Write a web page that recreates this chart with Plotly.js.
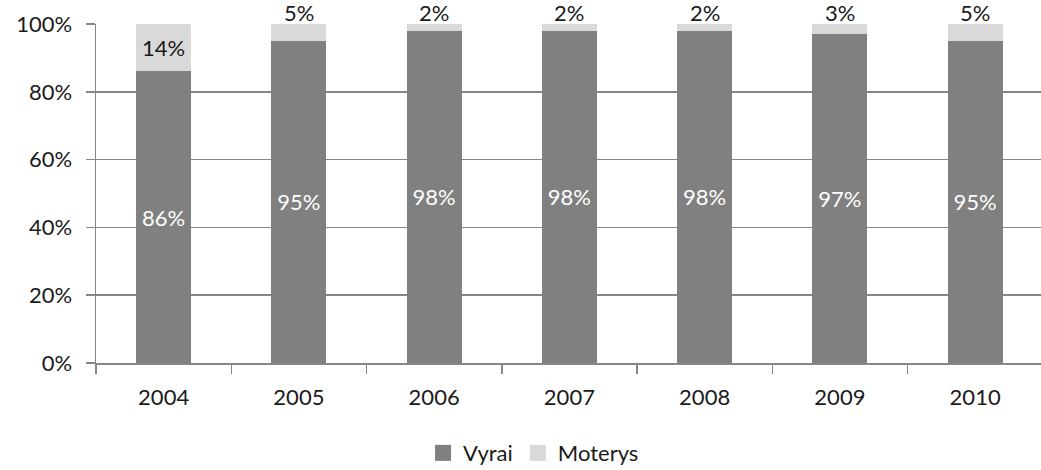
<!DOCTYPE html>
<html>
<head>
<meta charset="utf-8">
<script src="https://cdn.plot.ly/plotly-3.0.1.min.js"></script>
<style>html,body{margin:0;padding:0;background:#fff;}#chart{width:1041px;height:470px;}</style>
</head>
<body>
<div id="chart"></div>
<script>
const years = ['2004', '2005', '2006', '2007', '2008', '2009', '2010'];
const vyrai = [86, 95, 98, 98, 98, 97, 95];
const moterys = [14, 5, 2, 2, 2, 3, 5];
const seriesNames = ['Vyrai', 'Moterys'];
const seriesColors = ['#808080', '#d9d9d9'];

const FONT = 'Lato, "Open Sans", sans-serif';
const FS = 22;
const TXT = '#1a1a1a';

const fitsInside = v => v >= 10;

const traces = [
  {
    type: 'bar', name: seriesNames[0], x: years, y: vyrai, showlegend: false,
    marker: {color: seriesColors[0]},
    text: vyrai.map(v => v + '%'), textposition: 'inside', insidetextanchor: 'middle',
    textfont: {family: FONT, size: FS, color: '#ffffff'},
    constraintext: 'none', hoverinfo: 'skip'
  },
  {
    type: 'bar', name: seriesNames[1], x: years, y: moterys, showlegend: false,
    marker: {color: seriesColors[1]},
    text: moterys.map(v => fitsInside(v) ? v + '%' : ''),
    textposition: 'inside', insidetextanchor: 'middle',
    textfont: {family: FONT, size: FS, color: TXT},
    constraintext: 'none', hoverinfo: 'skip'
  },
  // legend entries
  ...seriesNames.map((n, i) => ({
    type: 'scatter', mode: 'markers', name: n, x: [null], y: [null],
    marker: {symbol: 'square', size: 16, color: seriesColors[i]},
    showlegend: true, hoverinfo: 'skip'
  }))
];

const annotations = years.map((yr, i) => fitsInside(moterys[i]) ? null : ({
  x: i, y: vyrai[i] + moterys[i], xref: 'x', yref: 'y',
  text: moterys[i] + '%', showarrow: false, yanchor: 'bottom', yshift: -4,
  font: {family: FONT, size: FS, color: TXT}
})).filter(a => a);

const layout = {
  width: 1041, height: 470,
  margin: {l: 96, r: 0, t: 24, b: 107},
  paper_bgcolor: '#ffffff', plot_bgcolor: '#ffffff',
  barmode: 'stack', bargap: 0.594,
  font: {family: FONT, size: FS, color: TXT},
  showlegend: true,
  legend: {orientation: 'h', x: 0.463, xanchor: 'center', yref: 'container', y: 0.036, yanchor: 'middle',
           font: {family: FONT, size: FS, color: TXT}, itemwidth: 30, traceorder: 'normal'},
  annotations: annotations,
  xaxis: {
    type: 'category', range: [-0.5, 6.487], fixedrange: true,
    showline: true, linecolor: '#868686', linewidth: 1.5,
    ticks: 'outside', tickson: 'boundaries', ticklen: 9, tickcolor: '#868686', tickwidth: 1.5,
    ticklabelstandoff: 14,
    showgrid: false, tickfont: {family: FONT, size: FS, color: TXT}
  },
  yaxis: {
    range: [0, 100], dtick: 20, ticksuffix: '%', fixedrange: true,
    showline: true, linecolor: '#868686', linewidth: 1.5,
    ticks: 'outside', ticklen: 9, tickcolor: '#868686', tickwidth: 1.5,
    ticklabelstandoff: 9,
    showgrid: true, gridcolor: '#868686', gridwidth: 1.5, zeroline: false,
    tickfont: {family: FONT, size: FS, color: TXT}
  }
};

Plotly.newPlot('chart', traces, layout, {displayModeBar: false, staticPlot: true});
</script>
</body>
</html>
